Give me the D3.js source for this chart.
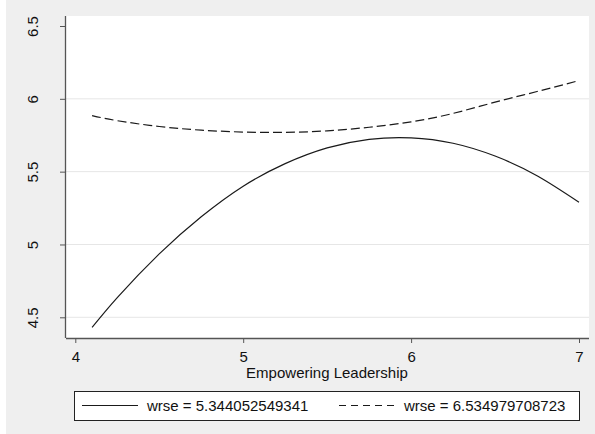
<!DOCTYPE html>
<html>
<head>
<meta charset="utf-8">
<script src="https://cdn.jsdelivr.net/npm/d3@7/dist/d3.min.js"></script>
<style>
	body { margin: 0; background: #fff; }
	svg { display: block; font-family: "Liberation Sans", Arial, sans-serif; }
</style>
</head>
<body>
<svg id="svg-margins" width="595" height="434"></svg>
<script>
// values
var xVals = [4.1, 4.25, 4.5, 4.75, 5.0, 5.25, 5.5, 5.75, 6.0, 6.25, 6.5, 6.75, 7.0];
var wrseLow = [4.43, 4.635, 4.935, 5.19, 5.40, 5.555, 5.663, 5.722, 5.732, 5.695, 5.607, 5.472, 5.29];
var wrseHigh = [5.885, 5.85, 5.81, 5.785, 5.772, 5.77, 5.78, 5.805, 5.842, 5.90, 5.977, 6.05, 6.125];
var seriesLabels = ["wrse = 5.344052549341", "wrse = 6.534979708723"];
var xTicks = [4, 5, 6, 7];
var yTicks = [4.5, 5, 5.5, 6, 6.5];
var yGrid = [4.5, 5, 5.5, 6];
var xTitle = "Empowering Leadership";

var fontSize = "15px";

var svg = d3.select("svg#svg-margins"),
	margin = {
		top: 16,
		right: 6,
		bottom: 96,
		left: 66
	},
	width = svg.attr("width") - margin.left - margin.right,
	height = svg.attr("height") - margin.top - margin.bottom;

// gray graph background, white strip on the left edge
svg.append("rect")
	.attr("x", 6)
	.attr("y", 0)
	.attr("width", 589)
	.attr("height", 434)
	.attr("fill", "#efefef");

var g = svg.append("g").attr("transform", "translate(" + margin.left + "," + margin.top + ")");

g.append("rect")
	.attr("width", width)
	.attr("height", height)
	.attr("fill", "#fff");

// set the ranges
var x = d3.scaleLinear().domain([4, 7]).range([9.3, 513]);
var y = d3.scaleLinear().domain([4.5, 6.5]).range([301.3, 10]);

// grid lines
g.selectAll(".grid")
	.data(yGrid)
	.enter().append("line")
	.attr("class", "grid")
	.attr("x1", 0)
	.attr("x2", width)
	.attr("y1", function (d) { return y(d); })
	.attr("y2", function (d) { return y(d); })
	.attr("stroke", "#e6e6e6")
	.attr("stroke-width", 1);

var line = d3.line()
	.x(function (d) { return x(d[0]); })
	.y(function (d) { return y(d[1]); })
	.curve(d3.curveNatural);

// solid line
g.append("path")
	.datum(d3.zip(xVals, wrseLow))
	.attr("fill", "none")
	.attr("stroke", "#1a1a1a")
	.attr("stroke-width", 1.2)
	.attr("d", line);

// dashed line
g.append("path")
	.datum(d3.zip(xVals, wrseHigh))
	.attr("fill", "none")
	.attr("stroke", "#1a1a1a")
	.attr("stroke-width", 1.2)
	.attr("stroke-dasharray", "9,4")
	.attr("d", line);

// X axis
var xAxis = g.append("g")
	.attr("transform", "translate(0," + height + ")")
	.call(d3.axisBottom(x).tickValues(xTicks).tickFormat(d3.format("d")).tickSize(5).tickSizeOuter(0));
xAxis.select(".domain").attr("d", "M0,0.5H" + width).attr("stroke", "#555").attr("stroke-width", 1.3);
xAxis.selectAll(".tick line").attr("stroke", "#555");
xAxis.selectAll(".tick text")
	.attr("font-family", "Liberation Sans, Arial, sans-serif")
	.attr("font-size", fontSize)
	.attr("fill", "#111")
	.attr("y", 24)
	.attr("dy", 0);

// Y axis
var yAxis = g.append("g")
	.call(d3.axisLeft(y).tickValues(yTicks).tickFormat(d3.format("~g")).tickSize(6).tickSizeOuter(0));
yAxis.select(".domain").attr("d", "M-0.5,0V" + height).attr("stroke", "#555").attr("stroke-width", 1.3);
yAxis.selectAll(".tick line").attr("stroke", "#555");
yAxis.selectAll(".tick text")
	.attr("font-family", "Liberation Sans, Arial, sans-serif")
	.attr("font-size", fontSize)
	.attr("fill", "#111")
	.attr("x", null)
	.attr("dy", 0)
	.attr("text-anchor", "middle")
	.attr("transform", "translate(-28,0) rotate(-90)");

// x title
svg.append("text")
	.attr("x", 327)
	.attr("y", 378)
	.attr("text-anchor", "middle")
	.attr("font-size", fontSize)
	.attr("fill", "#111")
	.text(xTitle);

// legend box
var legend = svg.append("g").attr("class", "legend");
legend.append("rect")
	.attr("x", 74.5)
	.attr("y", 391.5)
	.attr("width", 505)
	.attr("height", 29)
	.attr("fill", "#fff")
	.attr("stroke", "#222")
	.attr("stroke-width", 1);

var keyX = [82, 339];
var dashes = [null, "7,5"];
legend.selectAll(".key")
	.data(seriesLabels)
	.enter().append("line")
	.attr("class", "key")
	.attr("x1", function (d, i) { return keyX[i]; })
	.attr("x2", function (d, i) { return keyX[i] + 56; })
	.attr("y1", 405.5)
	.attr("y2", 405.5)
	.attr("stroke", "#1a1a1a")
	.attr("stroke-width", 1.2)
	.attr("stroke-dasharray", function (d, i) { return dashes[i]; });

legend.selectAll(".label")
	.data(seriesLabels)
	.enter().append("text")
	.attr("class", "label")
	.attr("x", function (d, i) { return keyX[i] + 65; })
	.attr("y", 410.5)
	.attr("font-size", fontSize)
	.attr("fill", "#111")
	.text(function (d) { return d; });
</script>
</body>
</html>
